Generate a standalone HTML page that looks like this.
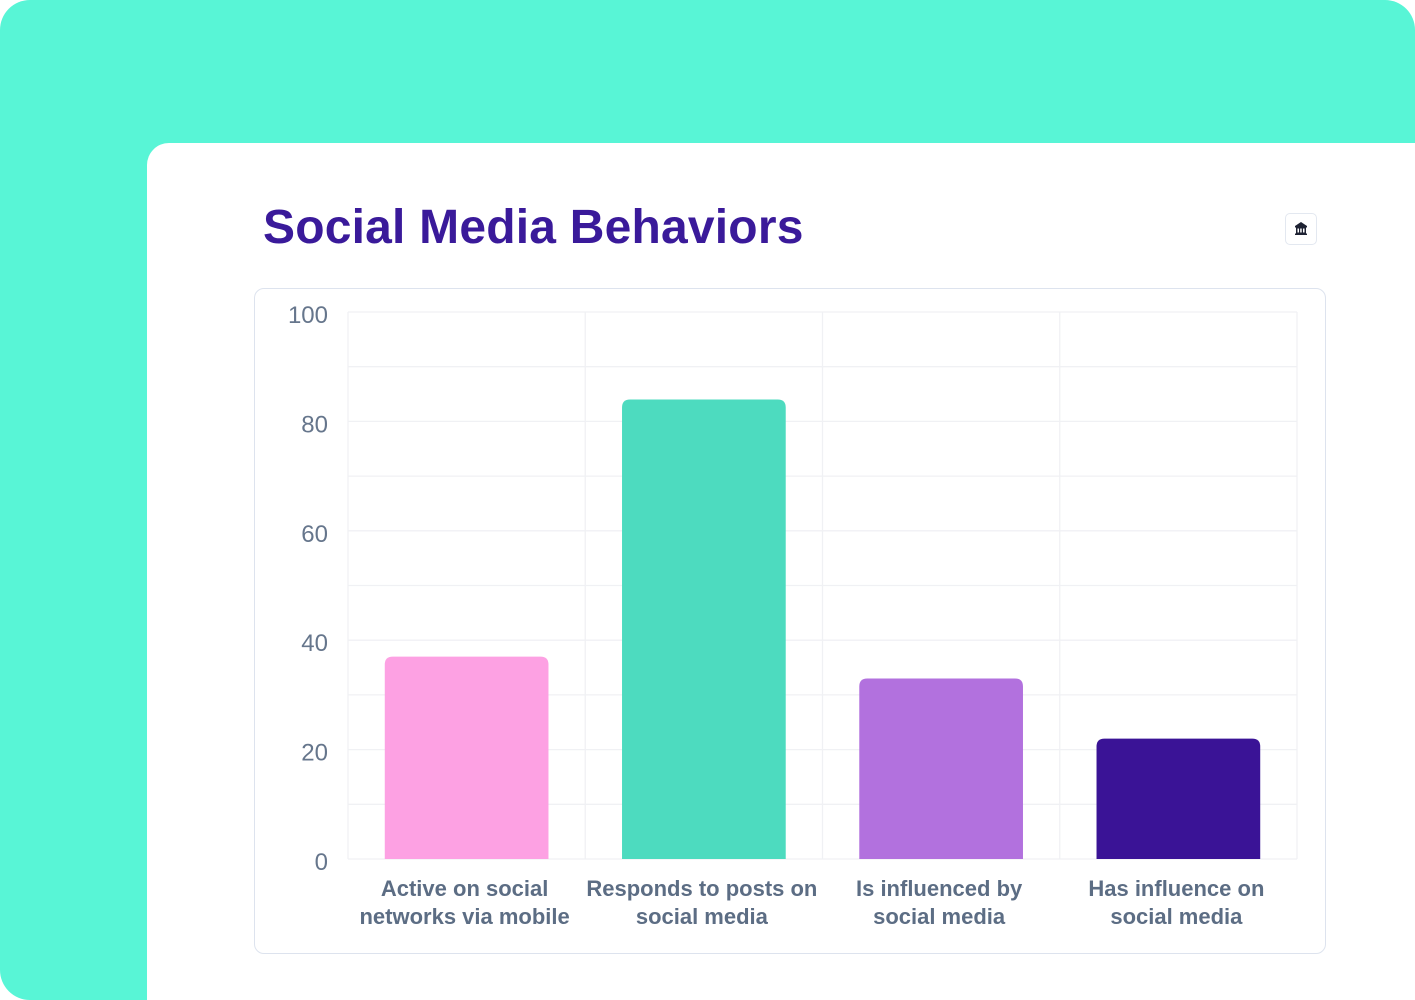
<!DOCTYPE html>
<html><head><meta charset="utf-8"><style>
html,body{margin:0;padding:0;width:1415px;height:1000px;overflow:hidden;background:#fff;position:relative}
#bg{position:absolute;left:0;top:0;width:1415px;height:1000px;background:#58f5d6;border-radius:30px}
#card{position:absolute;left:147px;top:143px;width:1268px;height:857px;background:#fff;border-radius:22px 0 0 0}
#title{position:absolute;left:263px;top:200px;font:bold 48px "Liberation Sans",sans-serif;color:#3a1a9a;letter-spacing:0.2px}
#icon{position:absolute;left:1285px;top:213px;width:32px;height:32px;border:1px solid #e3e8f0;border-radius:5px;box-sizing:border-box;background:#fff}
#box{position:absolute;left:254px;top:288px;width:1072px;height:666px;border:1px solid #dde3ee;border-radius:10px;box-sizing:border-box}
svg{position:absolute;left:0;top:0}
</style></head><body>
<div id="bg"></div>
<div id="card"></div>
<div id="title">Social Media Behaviors</div>
<div id="icon">
<svg width="30" height="30" viewBox="0 0 30 30"><path d="M9 12 L15 8 L21 12 Z" fill="#1e2233"/><rect x="9" y="12" width="12" height="1.5" fill="#1e2233"/><rect x="10" y="13.5" width="10" height="6" fill="#1e2233"/><rect x="11.5" y="14.5" width="1.5" height="4" fill="#fff"/><rect x="14.2" y="14.5" width="1.5" height="4" fill="#fff"/><rect x="17" y="14.5" width="1.5" height="4" fill="#fff"/><rect x="9" y="19.5" width="12" height="1.5" fill="#1e2233"/></svg>
</div>
<div id="box"></div>
<svg id="chart" width="1415" height="1000"></svg>
<script>
const categories=[["Active on social","networks via mobile"],["Responds to posts on","social media"],["Is influenced by","social media"],["Has influence on","social media"]];
const values=[37,84,33,22];
const colors=["#fda1e3","#4ddbbf","#b271de","#3a1396"];
const yTicks=[0,20,40,60,80,100];
const NS="http://www.w3.org/2000/svg";
const svg=document.getElementById('chart');
const L=348,R=1297,T=312,B=859;
const y=v=>B-(v/100)*(B-T);
const band=(R-L)/categories.length;
const x=i=>L+i*band;
function mk(t,a){const e=document.createElementNS(NS,t);for(const k in a)e.setAttribute(k,a[k]);svg.appendChild(e);return e;}
for(let v=0;v<=100;v+=10){const l=mk('line',{x1:L,x2:R,y1:y(v),y2:y(v),stroke:'#f0f1f4','stroke-width':1.3});

}
for(let i=0;i<=categories.length;i++){const l=mk('line',{x1:x(i),x2:x(i),y1:T,y2:B,stroke:'#f0f1f4','stroke-width':1.3});

}
yTicks.forEach(v=>{const t=mk('text',{x:328,y:y(v)+11,'text-anchor':'end','font-family':'Liberation Sans, sans-serif','font-size':24,fill:'#66768c'});t.textContent=v;

});
values.forEach((v,i)=>{const w=band*0.69,bx=x(i)+(band-w)/2,by=y(v),h=B-by,r=8;
const p=mk('path',{d:`M${bx},${B} L${bx},${by+r} Q${bx},${by} ${bx+r},${by} L${bx+w-r},${by} Q${bx+w},${by} ${bx+w},${by+r} L${bx+w},${B} Z`,fill:colors[i]});


categories[i].forEach((s,j)=>{const t=mk('text',{x:x(i)+band/2-2,y:896+j*28,'text-anchor':'middle','font-family':'Liberation Sans, sans-serif','font-size':22,'font-weight':'bold',fill:'#5c6d84'});t.textContent=s;

});});
</script>
</body></html>
